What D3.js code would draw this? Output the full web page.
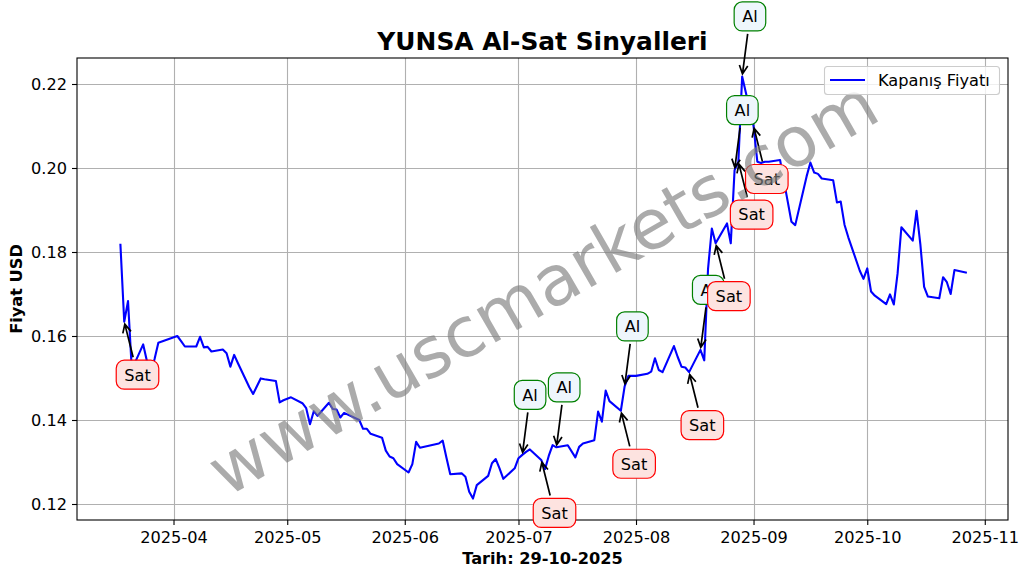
<!DOCTYPE html>
<html>
<head>
<meta charset="utf-8">
<script src="https://cdn.jsdelivr.net/npm/d3@7/dist/d3.min.js"></script>
<style>
  html, body { margin: 0; padding: 0; background: #ffffff; }
  svg { display: block; font-family: "DejaVu Sans", sans-serif; }
</style>
</head>
<body>
<svg id="chart" width="1029" height="575"></svg>
<script>
// ---------------- data ----------------
const dates = [
"2025-03-18","2025-03-19","2025-03-20","2025-03-21","2025-03-24","2025-03-25","2025-03-26","2025-03-27","2025-03-28",
"2025-04-02","2025-04-03","2025-04-04","2025-04-07","2025-04-08","2025-04-09","2025-04-10","2025-04-11",
"2025-04-14","2025-04-15","2025-04-16","2025-04-17","2025-04-18","2025-04-21","2025-04-22","2025-04-24","2025-04-25",
"2025-04-28","2025-04-29","2025-04-30","2025-05-02","2025-05-05","2025-05-06","2025-05-07","2025-05-08","2025-05-09",
"2025-05-12","2025-05-13","2025-05-14","2025-05-15","2025-05-16","2025-05-20","2025-05-21","2025-05-22","2025-05-23",
"2025-05-26","2025-05-27","2025-05-28","2025-05-29","2025-05-30","2025-06-02","2025-06-03","2025-06-04","2025-06-05",
"2025-06-10","2025-06-11","2025-06-12","2025-06-13","2025-06-16","2025-06-17","2025-06-18","2025-06-19","2025-06-20",
"2025-06-23","2025-06-24","2025-06-25","2025-06-26","2025-06-27","2025-06-30","2025-07-01","2025-07-02","2025-07-03",
"2025-07-04","2025-07-07","2025-07-08","2025-07-09","2025-07-10","2025-07-11","2025-07-14","2025-07-16","2025-07-17",
"2025-07-18","2025-07-21","2025-07-22","2025-07-23","2025-07-24","2025-07-25","2025-07-28","2025-07-29","2025-07-30",
"2025-07-31","2025-08-01","2025-08-04","2025-08-05","2025-08-06","2025-08-07","2025-08-08","2025-08-11","2025-08-12",
"2025-08-13","2025-08-14","2025-08-15","2025-08-18","2025-08-19","2025-08-20","2025-08-21","2025-08-22","2025-08-25",
"2025-08-26","2025-08-27","2025-08-28","2025-08-29","2025-09-01","2025-09-02","2025-09-03","2025-09-04","2025-09-05",
"2025-09-08","2025-09-09","2025-09-10","2025-09-11","2025-09-12","2025-09-15","2025-09-16","2025-09-17","2025-09-18",
"2025-09-19","2025-09-22","2025-09-23","2025-09-24","2025-09-25","2025-09-26","2025-09-29","2025-09-30","2025-10-01",
"2025-10-02","2025-10-03","2025-10-06","2025-10-07","2025-10-08","2025-10-09","2025-10-10","2025-10-13","2025-10-14",
"2025-10-15","2025-10-16","2025-10-17","2025-10-20","2025-10-21","2025-10-22","2025-10-23","2025-10-24","2025-10-27"
];
const prices = [
0.1817,0.1634,0.1683,0.1520,0.1580,0.1540,0.1510,0.1545,0.1584,
0.1600,0.1588,0.1575,0.1575,0.1598,0.1573,0.1574,0.1563,
0.1568,0.1559,0.1527,0.1555,0.1535,0.1478,0.1462,0.1499,0.1497,
0.1493,0.1442,0.1447,0.1454,0.1440,0.1428,0.1390,0.1421,0.1410,
0.1441,0.1426,0.1425,0.1406,0.1417,0.1400,0.1379,0.1379,0.1367,
0.1358,0.1327,0.1313,0.1309,0.1295,0.1275,0.1295,0.1348,0.1334,
0.1344,0.1351,0.1310,0.1271,0.1273,0.1265,0.1229,0.1213,0.1245,
0.1267,0.1297,0.1307,0.1285,0.1260,0.1285,0.1309,0.1317,0.1324,
0.1330,0.1305,0.1283,0.1315,0.1340,0.1335,0.1340,0.1311,0.1336,
0.1344,0.1352,0.1420,0.1396,0.1470,0.1445,0.1422,0.1480,0.1505,
0.1505,0.1505,0.1510,0.1515,0.1547,0.1519,0.1514,0.1576,0.1550,
0.1527,0.1525,0.1514,0.1567,0.1542,0.1760,0.1856,0.1821,0.1868,
0.1821,0.1995,0.2015,0.2218,0.2100,0.2015,0.2012,0.2015,0.2015,
0.2019,0.1970,0.1921,0.1872,0.1864,0.1980,0.2013,0.1989,0.1986,
0.1975,0.1971,0.1918,0.1920,0.1865,0.1835,0.1756,0.1736,0.1761,
0.1706,0.1696,0.1676,0.1699,0.1675,0.1749,0.1859,0.1827,0.1898,
0.1819,0.1717,0.1694,0.1690,0.1740,0.1728,0.1700,0.1757,0.1751
];
const alDates  = ["2025-07-02","2025-07-11","2025-07-29","2025-08-18","2025-08-27","2025-08-29"];
const satDates = ["2025-03-19","2025-07-07","2025-07-28","2025-08-15","2025-08-22","2025-08-28","2025-09-01"];
const yTicks = [0.12, 0.14, 0.16, 0.18, 0.20, 0.22];

const titleText = "YUNSA Al-Sat Sinyalleri";
const xLabelText = "Tarih: 29-10-2025";
const yLabelText = "Fiyat USD";
const legendText = "Kapanış Fiyatı";
const watermarkText = "www.uscmarkets.com";

// ---------------- layout ----------------
const parse = d3.timeParse("%Y-%m-%d");
const series = dates.map((d, i) => ({ date: parse(d), value: prices[i] }));
const valueOf = new Map(dates.map((d, i) => [d, prices[i]]));

const L = 77, T = 58, R = 1008, B = 520;
const FONT = "DejaVu Sans";

const x = d3.scaleTime()
  .domain([new Date(2025, 2, 6, 13), new Date(2025, 10, 7, 3)])
  .range([L, R]);
const y = d3.scaleLinear()
  .domain([0.11619, 0.22619])
  .range([B, T]);

const svg = d3.select("#chart");
svg.append("rect").attr("width", 1029).attr("height", 575).attr("fill", "#fff");

const monthTicks = d3.timeMonth.range(new Date(2025, 3, 1), new Date(2025, 10, 2));

// grid
const grid = svg.append("g");
grid.selectAll("line.gx").data(monthTicks).join("line")
  .attr("x1", d => Math.round(x(d)) + 0.5).attr("x2", d => Math.round(x(d)) + 0.5)
  .attr("y1", T).attr("y2", B)
  .attr("stroke", "#b0b0b0").attr("stroke-width", 1.1);
grid.selectAll("line.gy").data(yTicks).join("line")
  .attr("y1", d => Math.round(y(d)) + 0.5).attr("y2", d => Math.round(y(d)) + 0.5)
  .attr("x1", L).attr("x2", R)
  .attr("stroke", "#b0b0b0").attr("stroke-width", 1.1);

// price line
const line = d3.line().x(d => x(d.date)).y(d => y(d.value));
svg.append("path").datum(series)
  .attr("d", line)
  .attr("fill", "none")
  .attr("stroke", "#0000ff")
  .attr("stroke-width", 2.1)
  .attr("stroke-linejoin", "round")
  .attr("stroke-linecap", "square");

// axes
const xAxis = d3.axisBottom(x).tickValues(monthTicks).tickFormat(d3.timeFormat("%Y-%m"))
  .tickSize(5).tickPadding(5);
const gx = svg.append("g").attr("transform", `translate(0,${B})`).call(xAxis);
gx.select(".domain").remove();
gx.selectAll(".tick line").attr("stroke", "#000").attr("stroke-width", 1.1);
gx.selectAll(".tick text").attr("font-family", FONT).attr("font-size", 16.2).attr("fill", "#000")
  .attr("dy", "0.78em");

const yAxis = d3.axisLeft(y).tickValues(yTicks).tickFormat(d3.format(".2f"))
  .tickSize(5).tickPadding(5);
const gy = svg.append("g").attr("transform", `translate(${L},0)`).call(yAxis);
gy.select(".domain").remove();
gy.selectAll(".tick line").attr("stroke", "#000").attr("stroke-width", 1.1);
gy.selectAll(".tick text").attr("font-family", FONT).attr("font-size", 16.2).attr("fill", "#000");

// frame
svg.append("rect").attr("x", L).attr("y", T).attr("width", R - L).attr("height", B - T)
  .attr("fill", "none").attr("stroke", "#000").attr("stroke-width", 1.1);

// title and labels
svg.append("text").attr("x", (L + R) / 2).attr("y", 50)
  .attr("text-anchor", "middle").attr("font-family", FONT).attr("font-weight", "bold")
  .attr("font-size", 24.9).attr("fill", "#000").text(titleText);
svg.append("text").attr("x", (L + R) / 2).attr("y", 564)
  .attr("text-anchor", "middle").attr("font-family", FONT).attr("font-weight", "bold")
  .attr("font-size", 16.2).attr("fill", "#000").text(xLabelText);
svg.append("text").attr("transform", `translate(22,${(T + B) / 2}) rotate(-90)`)
  .attr("text-anchor", "middle").attr("font-family", FONT).attr("font-weight", "bold")
  .attr("font-size", 16.2).attr("fill", "#000").text(yLabelText);

// annotations
const annLayer = svg.append("g");
function annotate(dateStr, label, isBuy) {
  const px = x(parse(dateStr)), py = y(valueOf.get(dateStr));
  const g = annLayer.append("g");
  const arrowG = g.append("g");
  const boxG = g.append("g");
  const rect = boxG.append("rect");
  const txt = boxG.append("text").attr("font-family", FONT).attr("font-size", 16.2)
    .attr("fill", "#000").attr("text-anchor", "middle").text(label);
  const tw = txt.node().getComputedTextLength();
  const w = tw + 16, h = 29;
  const left = px - 8;
  const cy = isBuy ? py - 60 : py + 53;
  const cx = left + w / 2;
  rect.attr("x", left).attr("y", cy - h / 2).attr("width", w).attr("height", h)
    .attr("rx", 8).attr("ry", 8)
    .attr("fill", isBuy ? "#eef6fc" : "#fde3e0")
    .attr("stroke", isBuy ? "#008000" : "#ff0000").attr("stroke-width", 1.2);
  txt.attr("x", cx).attr("y", cy + 5.8);
  // arrow
  const vx = px - cx, vy = py - cy;
  const len = Math.hypot(vx, vy);
  const ux = vx / len, uy = vy / len;
  const tExit = Math.min(Math.abs(ux) > 1e-6 ? (w / 2) / Math.abs(ux) : 1e9,
                         Math.abs(uy) > 1e-6 ? (h / 2) / Math.abs(uy) : 1e9);
  const sx = cx + ux * (tExit + 3), sy = cy + uy * (tExit + 3);
  const ex = px - ux * 2.5, ey = py - uy * 2.5;
  const hl = 8.5, hw = 4.2;
  const bx = ex - ux * hl, by = ey - uy * hl;
  const nx = -uy, ny = ux;
  arrowG.append("path")
    .attr("d", `M${sx},${sy}L${ex},${ey}M${bx + nx * hw},${by + ny * hw}L${ex},${ey}L${bx - nx * hw},${by - ny * hw}`)
    .attr("fill", "none").attr("stroke", "#000").attr("stroke-width", 1.7)
    .attr("stroke-linejoin", "miter");
}
alDates.forEach(d => annotate(d, "Al", true));
satDates.forEach(d => annotate(d, "Sat", false));

// watermark
svg.append("text")
  .attr("transform", `translate(${(L + R) / 2},${(T + B) / 2 - 2}) rotate(-30)`)
  .attr("text-anchor", "middle").attr("dominant-baseline", "central")
  .attr("font-family", FONT).attr("font-size", 69.5)
  .attr("fill", "#808080").attr("fill-opacity", 0.66)
  .text(watermarkText);

// legend
const lg = svg.append("g");
lg.append("rect").attr("x", 824.5).attr("y", 66.5).attr("width", 175).attr("height", 28)
  .attr("rx", 3).attr("ry", 3)
  .attr("fill", "#fff").attr("fill-opacity", 0.8)
  .attr("stroke", "#cccccc").attr("stroke-width", 1.1);
lg.append("line").attr("x1", 830).attr("x2", 865).attr("y1", 80).attr("y2", 80)
  .attr("stroke", "#0000ff").attr("stroke-width", 2.1);
lg.append("text").attr("x", 878).attr("y", 86).attr("font-family", FONT)
  .attr("font-size", 16.2).attr("fill", "#000").text(legendText);
</script>
</body>
</html>
